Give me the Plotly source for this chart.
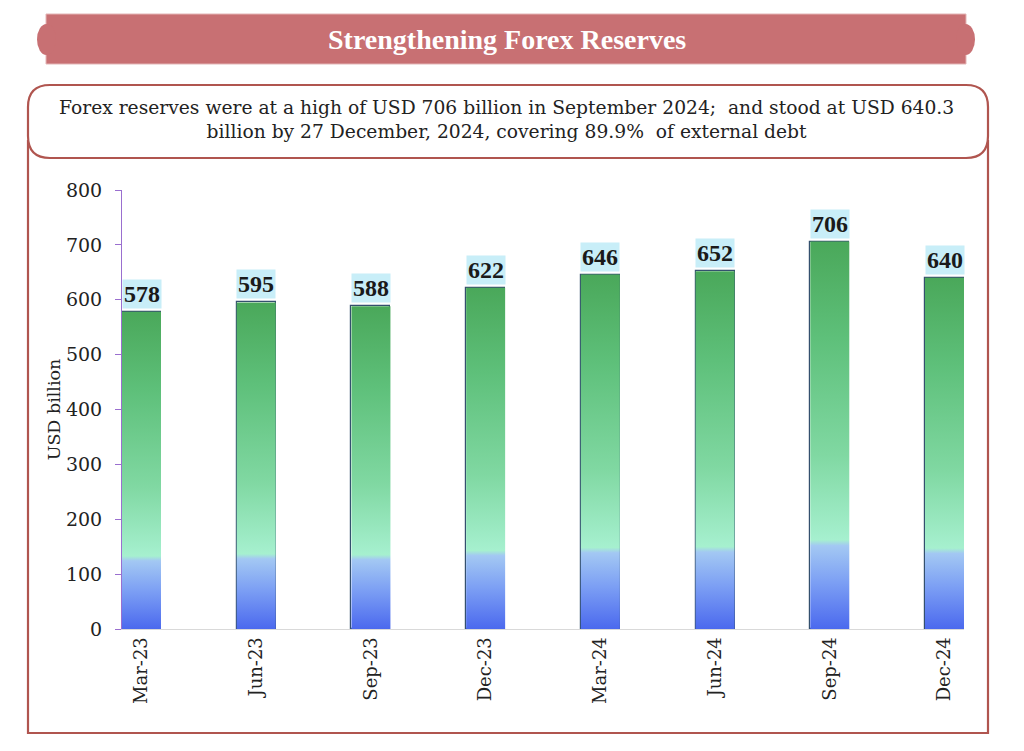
import plotly.graph_objects as go

categories = ["Mar-23", "Jun-23", "Sep-23", "Dec-23", "Mar-24", "Jun-24", "Sep-24", "Dec-24"]
reserves = [578, 595, 588, 622, 646, 652, 706, 640]
y_ticks = [0, 100, 200, 300, 400, 500, 600, 700, 800]
title_text = "Strengthening Forex Reserves"
subtitle_text = ("Forex reserves were at a high of USD 706 billion in September 2024;&nbsp; and stood at USD 640.3"
                 "<br>billion by 27 December, 2024, covering 89.9%&nbsp; of external debt")
y_title = "USD billion"

OFF = 8                            # page body margin
W, H = 1024 - OFF, 751 - OFF
# plot area in reference-screen pixels
SL, SR, ST, SB = 122, 964, 190, 629
L, R, T, B = SL - OFF, SR - OFF, ST - OFF, SB - OFF
HW = 0.17                          # half bar width (category units)

def px(x):
    return (x - SL) / (SR - SL)

def py(y):
    return (SB - y) / (SB - ST)

SERIF = "DejaVu Serif"
SERIF2 = "Liberation Serif"
FRAME = "#b0554f"

grad = [[0.0, "#4b69ee"], [0.12, "#7c9ff4"], [0.215, "#a3c8f3"], [0.23, "#a6f0cf"],
        [0.45, "#80d8a2"], [0.75, "#5ec07a"], [1.0, "#4aa85a"]]

fig = go.Figure()
xs = list(range(len(categories)))
for i, v in zip(xs, reserves):
    fig.add_trace(go.Scatter(
        x=[i - HW, i + HW, i + HW, i - HW, i - HW], y=[0, 0, v, v, 0],
        mode="lines", fill="toself", line=dict(width=0),
        fillgradient=dict(type="vertical", colorscale=grad, start=0, stop=v),
        hoverinfo="skip", showlegend=False))

fig.add_trace(go.Bar(
    x=xs, y=reserves, width=2 * HW,
    marker=dict(color="rgba(0,0,0,0)", line=dict(color="#34506e", width=1.2)),
    showlegend=False))

for i, v in zip(xs, reserves):
    fig.add_annotation(x=i, y=v, xref="x", yref="y", text=f"<b>{v}</b>", showarrow=False,
                       yanchor="bottom", yshift=3, bgcolor="#c8eef8", borderpad=1,
                       font=dict(family=SERIF2, size=24, color="#1a1a1a"))

shapes = []
def P(x, y):
    return f"{px(x)},{py(y)}"
# outer frame (left, bottom, right lines)
shapes.append(dict(type="path", xref="paper", yref="paper",
                   path=f"M {P(28, 140)} L {P(28, 733)} L {P(988, 733)} L {P(988, 140)}",
                   line=dict(color=FRAME, width=2.2)))
# subtitle rounded box
x0, x1, y0, y1, r = 28, 988, 85, 158, 22
path = (f"M {P(x0 + r, y0)} L {P(x1 - r, y0)} Q {P(x1, y0)} {P(x1, y0 + r)} "
        f"L {P(x1, y1 - r)} Q {P(x1, y1)} {P(x1 - r, y1)} L {P(x0 + r, y1)} "
        f"Q {P(x0, y1)} {P(x0, y1 - r)} L {P(x0, y0 + r)} Q {P(x0, y0)} {P(x0 + r, y0)} Z")
shapes.append(dict(type="path", xref="paper", yref="paper", path=path,
                   fillcolor="white", line=dict(color=FRAME, width=2.2)))
# title banner
BAN = "#c87073"
shapes.append(dict(type="rect", xref="paper", yref="paper",
                   x0=px(46), x1=px(966), y0=py(64), y1=py(14),
                   fillcolor=BAN, line=dict(color="#e3b5b6", width=1)))
shapes.append(dict(type="circle", xref="paper", yref="paper",
                   x0=px(37), x1=px(56), y0=py(55), y1=py(24),
                   fillcolor=BAN, line=dict(width=0)))
shapes.append(dict(type="circle", xref="paper", yref="paper",
                   x0=px(956), x1=px(975), y0=py(55), y1=py(24),
                   fillcolor=BAN, line=dict(width=0)))

fig.add_annotation(xref="paper", yref="paper", x=px(507), y=py(39), text=f"<b>{title_text}</b>",
                   showarrow=False, xanchor="center", yanchor="middle",
                   font=dict(family=SERIF2, size=28, color="white"))
fig.add_annotation(xref="paper", yref="paper", x=px(506), y=py(119), text=subtitle_text,
                   showarrow=False, xanchor="center", yanchor="middle", align="center",
                   font=dict(family=SERIF, size=18.7, color="#222222"))

fig.update_layout(
    width=W, height=H,
    margin=dict(l=L, r=W - R, t=T, b=H - B, pad=0),
    paper_bgcolor="white", plot_bgcolor="white",
    shapes=shapes, bargap=0,
    xaxis=dict(range=[-HW, len(categories) - 1 + HW], tickmode="array", tickvals=xs,
               ticktext=categories, tickangle=-90, showgrid=False, zeroline=False,
               showline=True, linecolor="#d9d9d9", linewidth=1, ticks="",
               tickfont=dict(family=SERIF, size=18, color="#222222")),
    yaxis=dict(range=[0, 800], tickvals=y_ticks, showgrid=False, zeroline=False,
               showline=True, linecolor="#9a6fcf", linewidth=1, ticks="outside",
               tickcolor="#9a6fcf", ticklen=6, tickwidth=1, ticklabelstandoff=9,
               tickfont=dict(family=SERIF, size=19, color="#222222"),
               title=dict(text=y_title, standoff=0,
                          font=dict(family=SERIF, size=17.5, color="#222222"))),
)

fig.write_html("out.html")
